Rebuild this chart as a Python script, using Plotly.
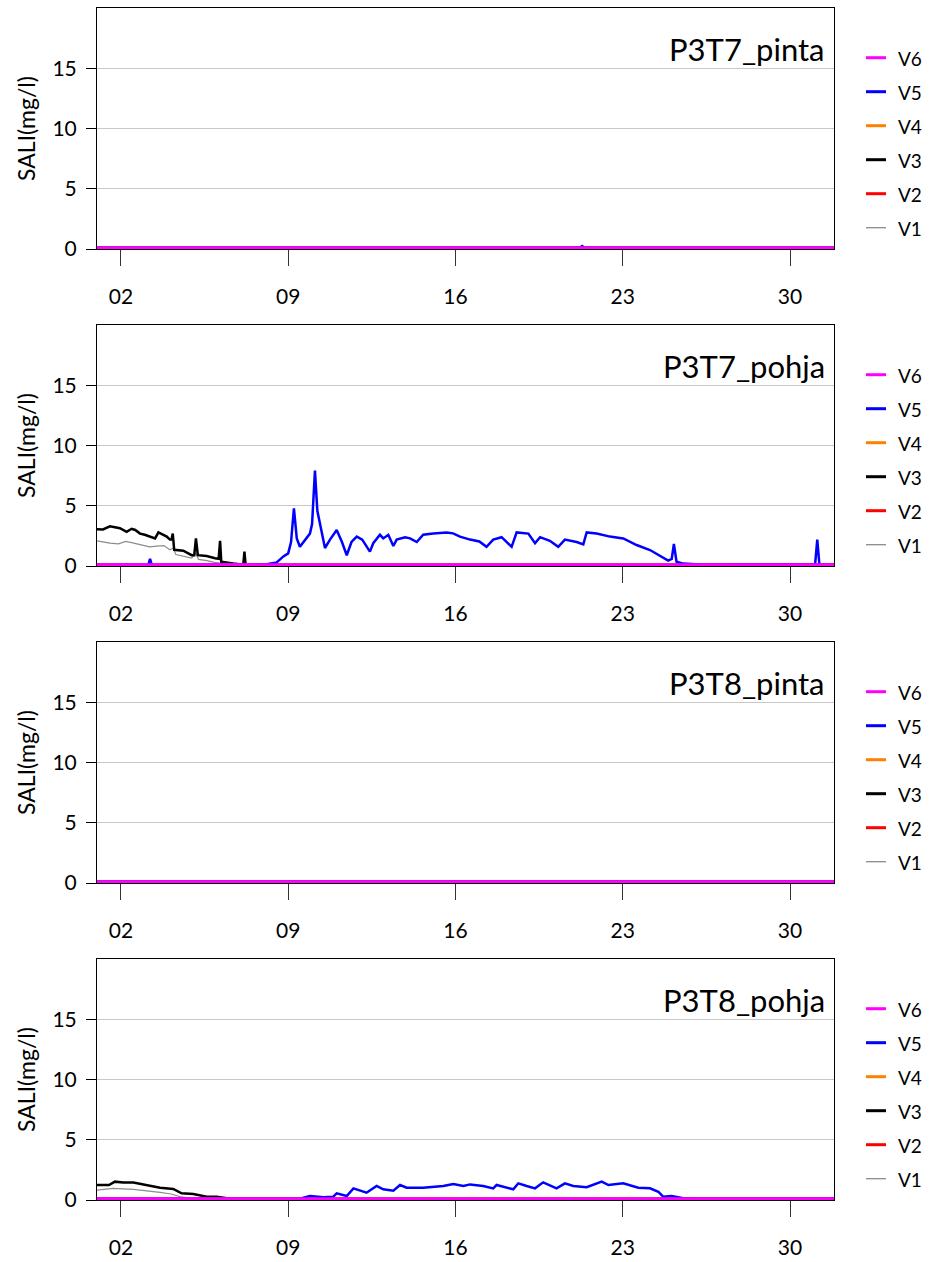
import numpy as np
import pandas as pd
import plotly.graph_objects as go
from plotly.subplots import make_subplots

# ---------------- data (day of month, decimal) ----------------
panel_names = ["P3T7_pinta", "P3T7_pohja", "P3T8_pinta", "P3T8_pohja"]
series_names = ["V1", "V2", "V3", "V4", "V5", "V6"]
series_colors = ["#8c8c8c", "#ff0000", "#000000", "#ff8000", "#0000ff", "#ff00ff"]
series_widths = [1.2, 2.5, 2.5, 2.5, 2.5, 3]

base_days = [1.0, 31.95]
base_vals = [0.1, 0.1]

# P3T7_pinta
p1_v5_days = [1.0, 21.2, 21.3, 21.4, 31.95]
p1_v5_vals = [0.1, 0.1, 0.25, 0.1, 0.1]

# P3T7_pohja
p2_v3_days = [1.0, 1.25, 1.54, 1.75, 1.96, 2.24, 2.45, 2.6, 2.8, 3.0, 3.22, 3.43, 3.57,
              3.75, 3.92, 4.05, 4.12, 4.17, 4.23, 4.61, 4.96, 5.07, 5.14, 5.22, 5.59,
              5.94, 6.09, 6.15, 6.2, 6.7, 7.05, 7.12, 7.17, 7.22, 7.6, 8.0, 31.95]
p2_v3_vals = [3.06, 3.05, 3.3, 3.2, 3.15, 2.85, 3.1, 3.0, 2.7, 2.6, 2.45, 2.3, 2.8,
              2.6, 2.45, 2.2, 2.2, 2.7, 1.35, 1.28, 0.9, 0.9, 2.3, 0.9, 0.83,
              0.65, 0.6, 2.1, 0.35, 0.2, 0.1, 0.1, 1.2, 0.05, 0.1, 0.1, 0.1]
p2_v1_days = [1.0, 1.3, 1.54, 1.9, 2.2, 2.45, 2.8, 3.2, 3.5, 3.8, 4.05, 4.2, 4.3,
              4.7, 4.96, 5.14, 5.25, 5.6, 5.9, 6.15, 6.3, 7.0, 31.95]
p2_v1_vals = [2.1, 2.0, 1.9, 1.85, 2.05, 1.95, 1.8, 1.6, 1.65, 1.7, 1.35, 1.5, 0.95,
              0.8, 0.65, 1.05, 0.55, 0.45, 0.3, 0.25, 0.1, 0.05, 0.05]
p2_v5_days = [1.0, 3.15, 3.22, 3.29, 7.5, 8.1, 8.52, 8.8, 9.0, 9.12, 9.24, 9.36, 9.49,
              9.7, 9.91, 10.0, 10.12, 10.22, 10.33, 10.54, 10.75, 11.03, 11.25, 11.45,
              11.65, 11.87, 12.1, 12.42, 12.56, 12.84, 12.98, 13.19, 13.40, 13.54,
              13.89, 14.1, 14.38, 14.65, 15.07, 15.63, 15.9, 16.19, 16.61, 17.0, 17.3,
              17.58, 17.93, 18.35, 18.56, 19.05, 19.33, 19.54, 19.95, 20.30, 20.58,
              21.07, 21.35, 21.49, 21.91, 22.46, 23.02, 23.58, 24.14, 24.69, 24.9,
              25.05, 25.14, 25.25, 25.53, 26.37, 29.9, 31.05, 31.14, 31.23, 31.95]
p2_v5_vals = [0.1, 0.1, 0.6, 0.1, 0.1, 0.15, 0.3, 0.8, 1.05, 2.0, 4.8, 2.3, 1.6,
              2.2, 2.7, 3.5, 7.95, 4.6, 3.55, 1.5, 2.2, 3.0, 2.0, 0.9,
              2.0, 2.45, 2.2, 1.2, 1.9, 2.6, 2.3, 2.6, 1.67, 2.2,
              2.4, 2.3, 2.0, 2.6, 2.7, 2.8, 2.72, 2.45, 2.2, 2.05, 1.6,
              2.2, 2.4, 1.6, 2.8, 2.7, 1.9, 2.4, 2.1, 1.6, 2.2,
              2.0, 1.8, 2.8, 2.7, 2.45, 2.3, 1.75, 1.33, 0.65, 0.45,
              0.6, 1.83, 0.35, 0.2, 0.1, 0.15, 0.15, 2.2, 0.1, 0.1]

# P3T8_pohja
p4_v3_days = [1.0, 1.5, 1.75, 2.1, 2.52, 3.22, 3.64, 4.19, 4.54, 5.03, 5.59, 6.01,
              6.43, 6.98, 31.95]
p4_v3_vals = [1.25, 1.25, 1.53, 1.45, 1.45, 1.17, 1.03, 0.92, 0.56, 0.5, 0.28, 0.28,
              0.14, 0.1, 0.1]
p4_v1_days = [1.0, 1.68, 2.52, 3.0, 3.64, 4.1, 4.47, 4.89, 5.5, 31.95]
p4_v1_vals = [0.83, 0.97, 0.89, 0.8, 0.64, 0.5, 0.28, 0.14, 0.05, 0.05]
p4_v5_days = [1.0, 9.49, 9.91, 10.47, 10.89, 11.03, 11.45, 11.73, 12.28, 12.70, 12.98,
              13.40, 13.68, 13.96, 14.65, 15.49, 15.91, 16.33, 16.61, 17.16, 17.58,
              17.72, 18.42, 18.63, 18.98, 19.33, 19.67, 20.23, 20.58, 20.93, 21.49,
              21.77, 22.12, 22.40, 23.02, 23.65, 24.14, 24.49, 24.69, 25.04, 25.53,
              26.0, 31.95]
p4_v5_vals = [0.1, 0.1, 0.33, 0.22, 0.28, 0.56, 0.33, 0.97, 0.61, 1.17, 0.89,
              0.78, 1.25, 1.03, 1.03, 1.17, 1.33, 1.17, 1.3, 1.17, 0.97,
              1.25, 0.89, 1.39, 1.17, 0.97, 1.47, 0.97, 1.39, 1.17, 1.06,
              1.25, 1.53, 1.25, 1.39, 1.03, 0.97, 0.69, 0.28, 0.33, 0.14,
              0.1, 0.1]

tick_days = [2, 9, 16, 23, 30]
y_ticks = [0, 5, 10, 15]

panel_data = [
    {"V5": (p1_v5_days, p1_v5_vals)},
    {"V1": (p2_v1_days, p2_v1_vals), "V3": (p2_v3_days, p2_v3_vals),
     "V5": (p2_v5_days, p2_v5_vals)},
    {},
    {"V1": (p4_v1_days, p4_v1_vals), "V3": (p4_v3_days, p4_v3_vals),
     "V5": (p4_v5_days, p4_v5_vals)},
]

# ---------------- helpers ----------------
BASE = pd.Timestamp("2021-07-01")


def to_dt(days):
    return BASE + pd.to_timedelta(np.asarray(days, float) - 1.0, unit="D")


W, H = 935, 1262
L, R, T, B = 97, 101, 8, 62
PW = W - L - R   # 737
PH = H - T - B   # 1192
GAP = 76
STEP = 317


def px_x(px):
    return (px - L) / PW


def px_y(py):
    return (H - B - py) / PH


fig = make_subplots(rows=4, cols=1, vertical_spacing=GAP / PH)

FONT = "Lato, 'Open Sans', sans-serif"

for i, pdata in enumerate(panel_data):
    for name, col, wid in zip(series_names, series_colors, series_widths):
        d, v = pdata.get(name, (base_days, base_vals))
        fig.add_trace(
            go.Scatter(x=to_dt(d), y=v, mode="lines", name=name,
                       line=dict(color=col, width=wid),
                       showlegend=False, cliponaxis=False),
            row=i + 1, col=1)

x_range = [BASE, BASE + pd.Timedelta(days=30.84)]
for i in range(4):
    fig.update_xaxes(
        row=i + 1, col=1, range=x_range, type="date",
        tickvals=to_dt(tick_days), tickformat="%d",
        ticks="outside", ticklen=16, tickcolor="#333333", tickwidth=1,
        showline=True, linecolor="#000000", linewidth=1, mirror=True,
        showgrid=False, zeroline=False,
        tickfont=dict(family=FONT, size=21, color="#000000"),
        ticklabelstandoff=13)
    fig.update_yaxes(
        row=i + 1, col=1, range=[0, 20.08], tickvals=y_ticks,
        ticks="outside", ticklen=10, tickcolor="#000000", tickwidth=1,
        showline=True, linecolor="#000000", linewidth=1, mirror=True,
        showgrid=True, gridcolor="#c8c8c8", gridwidth=1, zeroline=False,
        tickfont=dict(family=FONT, size=21, color="#000000"),
        ticklabelstandoff=5,
        title=dict(text="SALI(mg/l)", standoff=10,
                   font=dict(family=FONT, size=23, color="#000000")))

# panel titles
for i, name in enumerate(panel_names):
    xr = "x domain" if i == 0 else f"x{i + 1} domain"
    yr = "y domain" if i == 0 else f"y{i + 1} domain"
    fig.add_annotation(text=name, xref=xr, yref=yr, x=0.99, y=0.83,
                       xanchor="right", yanchor="middle", showarrow=False,
                       font=dict(family=FONT, size=31, color="#000000"))

# legends (one per panel, V6 on top)
leg_names = series_names[::-1]
leg_colors = series_colors[::-1]
leg_widths = [3, 3, 3, 3, 3, 1.3]
shapes = []
for i in range(4):
    for j, (nm, col, lw) in enumerate(zip(leg_names, leg_colors, leg_widths)):
        yc = 57.7 + 34 * j + STEP * i
        shapes.append(dict(type="line", xref="paper", yref="paper",
                           x0=px_x(866), x1=px_x(886), y0=px_y(yc), y1=px_y(yc),
                           line=dict(color=col, width=lw)))
        fig.add_annotation(text=nm, xref="paper", yref="paper",
                           x=px_x(896), y=px_y(yc + 1), xanchor="left",
                           yanchor="middle", showarrow=False,
                           font=dict(family=FONT, size=19, color="#000000"))

fig.update_layout(
    width=W, height=H,
    margin=dict(l=L, r=R, t=T, b=B, autoexpand=False),
    paper_bgcolor="#ffffff", plot_bgcolor="#ffffff",
    font=dict(family=FONT, color="#000000"),
    showlegend=False, shapes=shapes)

fig.write_html("out.html")
